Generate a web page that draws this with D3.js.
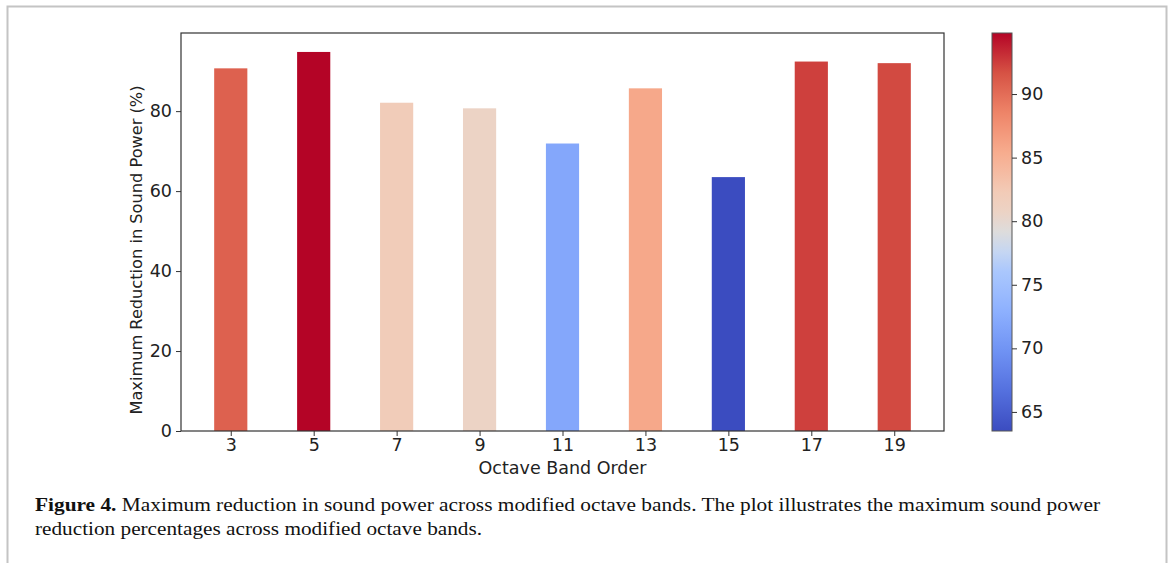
<!DOCTYPE html>
<html>
<head>
<meta charset="utf-8">
<script src="https://cdn.jsdelivr.net/npm/d3@7"></script>
<style>
  body { margin: 0; background: #fff; }
  svg { display: block; }
  .tick text { font-family: "DejaVu Sans", sans-serif; }
</style>
</head>
<body>
<div class="chart"></div>
<script>
const bands = [3, 5, 7, 9, 11, 13, 15, 17, 19];
const reductions = [90.7, 94.8, 82.1, 80.7, 71.9, 85.7, 63.5, 92.4, 92.0];
const yTicks = [0, 20, 40, 60, 80];
const cbTicks = [65, 70, 75, 80, 85, 90];
const xLabel = 'Octave Band Order';
const yLabel = 'Maximum Reduction in Sound Power (%)';
const captionBold = 'Figure 4.';
const captionLine1 = ' Maximum reduction in sound power across modified octave bands. The plot illustrates the maximum sound power';
const captionLine2 = 'reduction percentages across modified octave bands.';

// matplotlib coolwarm, sampled
const coolwarmStops = ['#3b4cc0', '#5470de', '#6f92f3', '#8db0fe', '#aac7fd', '#c5d6f2',
  '#dddcdc', '#ecd3c5', '#f2cbb7', '#f7ac8e', '#ee8468', '#d65244', '#b40426'];
const coolwarmPos = [0, 0.1, 0.2, 0.3, 0.4, 0.45, 0.5, 0.55, 0.6, 0.7, 0.8, 0.9, 1];
const coolwarm = d3.scaleLinear().domain(coolwarmPos).range(coolwarmStops)
    .interpolate(d3.interpolateRgb).clamp(true);

const W = 1170, H = 563;
const margin = {top: 33, right: 226, bottom: 132, left: 181};
const width = W - margin.left - margin.right;
const height = H - margin.top - margin.bottom;
const tickFont = 17.5;

const svg = d3.select('.chart').append('svg')
    .attr('width', W)
    .attr('height', H);

// page frame
svg.append('path')
    .attr('d', `M7.5,${H} V6.5 H1166.5 V${H}`)
    .attr('fill', 'none')
    .attr('stroke', '#c4c4c4')
    .attr('stroke-width', 2);

const vmin = d3.min(reductions), vmax = d3.max(reductions);
const norm = d3.scaleLinear().domain([vmin, vmax]).range([0, 1]);

const xScale = d3.scaleLinear()
    .domain([1.8, 20.2])
    .range([0, width]);
const yScale = d3.scaleLinear()
    .domain([0, vmax * 1.05])
    .range([height, 0]);

const g = svg.append('g')
    .attr('transform', `translate(${margin.left},${margin.top})`);

g.selectAll('.bar')
    .data(bands)
  .enter().append('rect')
    .attr('class', 'bar')
    .attr('x', d => xScale(d - 0.4))
    .attr('width', xScale(0.8) - xScale(0))
    .attr('y', (d, i) => yScale(reductions[i]))
    .attr('height', (d, i) => height - yScale(reductions[i]))
    .attr('fill', (d, i) => coolwarm(norm(reductions[i])));

g.append('rect')
    .attr('width', width)
    .attr('height', height)
    .attr('fill', 'none')
    .attr('stroke', '#333')
    .attr('stroke-width', 1.2);

const xAxis = g.append('g')
    .attr('class', 'axis axis--x')
    .attr('transform', `translate(0,${height})`)
    .call(d3.axisBottom(xScale).tickValues(bands).tickSize(5).tickPadding(3));
const yAxis = g.append('g')
    .attr('class', 'axis axis--y')
    .call(d3.axisLeft(yScale).tickValues(yTicks).tickSize(5).tickPadding(4));

[xAxis, yAxis].forEach(a => {
  a.select('.domain').remove();
  a.selectAll('.tick line').attr('stroke', '#333');
  a.selectAll('.tick text').attr('font-size', tickFont).attr('fill', '#222');
});

g.append('text')
    .attr('x', width / 2)
    .attr('y', height + 43)
    .attr('text-anchor', 'middle')
    .attr('font-family', 'DejaVu Sans, sans-serif')
    .attr('font-size', tickFont)
    .attr('fill', '#222')
    .text(xLabel);

g.append('text')
    .attr('transform', `translate(${-39},${217}) rotate(-90)`)
    .attr('text-anchor', 'middle')
    .attr('font-family', 'DejaVu Sans, sans-serif')
    .attr('font-size', 16.2)
    .attr('fill', '#222')
    .text(yLabel);

// colorbar
const cb = {x: 992, y: 33, w: 20, h: 398};
const cbScale = d3.scaleLinear().domain([vmin, vmax]).range([cb.h, 0]);

const grad = svg.append('defs').append('linearGradient')
    .attr('id', 'cbgrad')
    .attr('x1', 0).attr('y1', 1).attr('x2', 0).attr('y2', 0);
grad.selectAll('stop')
    .data(d3.range(0, 1.0001, 0.05))
  .enter().append('stop')
    .attr('offset', d => d)
    .attr('stop-color', d => coolwarm(d));

const cbG = svg.append('g')
    .attr('transform', `translate(${cb.x},${cb.y})`);
cbG.append('rect')
    .attr('width', cb.w)
    .attr('height', cb.h)
    .attr('fill', 'url(#cbgrad)')
    .attr('stroke', '#555')
    .attr('stroke-width', 1);

const cbAxis = cbG.append('g')
    .attr('transform', `translate(${cb.w},0)`)
    .call(d3.axisRight(cbScale).tickValues(cbTicks).tickSize(5).tickPadding(4));
cbAxis.select('.domain').remove();
cbAxis.selectAll('.tick line').attr('stroke', '#333');
cbAxis.selectAll('.tick text').attr('font-size', tickFont).attr('fill', '#222');

// caption
const cap = svg.append('g')
    .attr('font-family', '"Liberation Serif", "DejaVu Serif", serif')
    .attr('font-size', 18.5)
    .attr('fill', '#111');
const l1 = cap.append('text')
    .attr('x', 35)
    .attr('y', 511)
    .attr('textLength', 1065)
    .attr('lengthAdjust', 'spacingAndGlyphs');
l1.append('tspan').attr('font-weight', 'bold').text(captionBold);
l1.append('tspan').text(captionLine1);
cap.append('text')
    .attr('x', 35)
    .attr('y', 535)
    .attr('textLength', 447)
    .attr('lengthAdjust', 'spacingAndGlyphs')
    .text(captionLine2);
</script>
</body>
</html>
